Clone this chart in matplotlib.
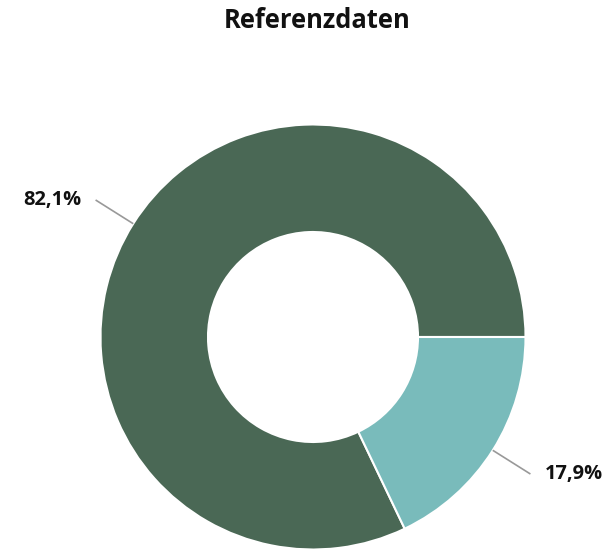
import numpy as np
import matplotlib
matplotlib.use("Agg")
import matplotlib.pyplot as plt

plt.rcParams['font.family'] = ['Open Sans', 'DejaVu Sans']

# Share of each category in the reference data
categories = ["A", "B"]
shares = [82.1, 17.9]
colors = ["#4a6855", "#79bbbb"]
title = "Referenzdaten"

W, H = 610, 552
fig = plt.figure(figsize=(W / 100, H / 100), dpi=100)
ax = fig.add_axes([0, 0, 1, 1])

cx, cy = 313, H - 337
r_out, r_in = 212.5, 105

wedges, _ = ax.pie(
    shares, colors=colors, startangle=0, counterclock=True,
    radius=r_out, center=(cx, cy),
    wedgeprops=dict(width=r_out - r_in, edgecolor="white", linewidth=1.5),
)

ax.set_xlim(0, W)
ax.set_ylim(0, H)
ax.set_aspect("equal")
ax.axis("off")

# Leader lines and percentage labels
for w, v in zip(wedges, shares):
    mid = np.deg2rad((w.theta1 + w.theta2) / 2)
    c, s = np.cos(mid), np.sin(mid)
    x0, y0 = cx + r_out * c, cy + r_out * s
    x1, y1 = cx + 257 * c, cy + 257 * s
    ax.plot([x0, x1], [y0, y1], color="#999999", lw=1.2, solid_capstyle="butt")
    side = 1 if c >= 0 else -1
    ax.text(x1 + side * 14, y1, f"{v:.1f}%".replace(".", ","),
            ha="left" if side > 0 else "right", va="center",
            fontsize=14.4, fontweight="bold", color="#111111")

ax.text(W / 2 + 12, H - 20, title, ha="center", va="center",
        fontsize=18.4, fontweight="bold", color="#111111")

fig.savefig("out.png", dpi=100)
